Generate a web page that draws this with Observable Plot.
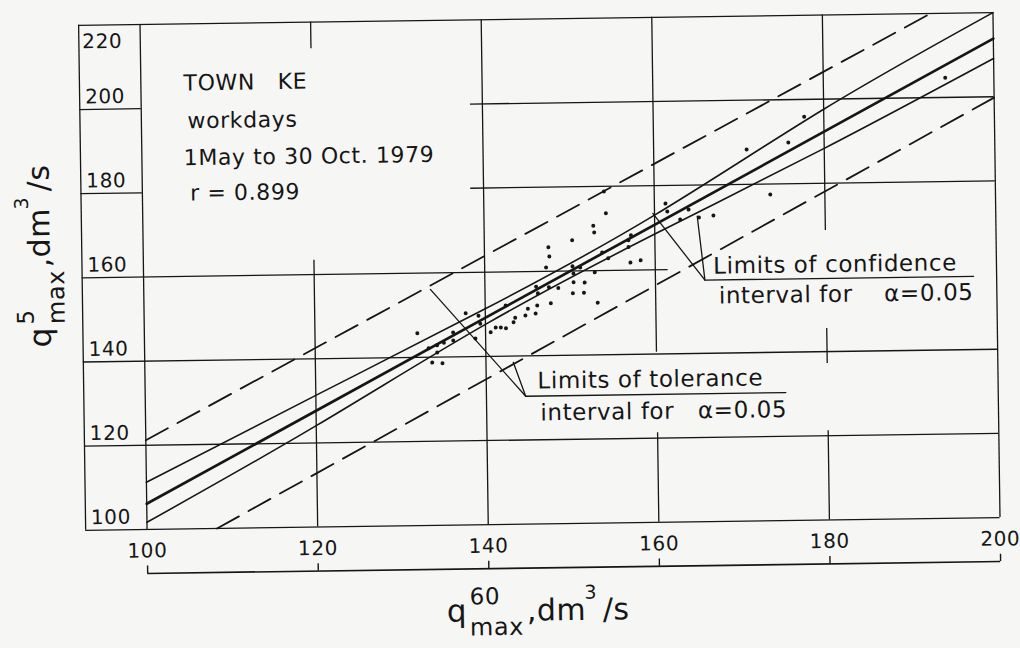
<!DOCTYPE html>
<html>
<head>
<meta charset="utf-8">
<script src="https://cdn.jsdelivr.net/npm/d3@7"></script>
<script src="https://cdn.jsdelivr.net/npm/@observablehq/plot@0.6"></script>
<style>
  html, body { margin: 0; padding: 0; background: #f6f6f5; }
  #chart svg { display: block; }
  #chart svg text { white-space: pre; letter-spacing: 0.6px; }
</style>
</head>
<body>
<div id="chart"></div>
<script>
// ---- data ----
const xTicks = [100, 120, 140, 160, 180, 200];
const yTicks = [100, 120, 140, 160, 180, 200];
const yTopTick = [220];

// observed points (q60max, q5max)
const obsX = [152.8,152.9,150.3,147.5,147.6,147.2,150.3,151.2,150.4,151.7,152.9,146.0,147.5,148.6,146.2,150.4,150.3,151.6,153.2,147.7,146.1,145.0,145.9,144.7,143.5,143.3,142.4,141.8,142.4,141.2,140.6,139.2,139.4,137.7,136.2,136.2,135.1,134.3,133.3,132.0,134.3,133.7,134.9,138.8,154.1,154.3,161.3,161.5,163.0,164.0,165.2,166.9,157.2,156.9,156.9,153.8,154.5,157.1,158.3,194.3,177.7,175.8,170.9,173.6];
const obsY = [170.7,169.1,167.3,165.7,163.5,160.9,161.1,160.8,159.4,157.2,159.6,156.4,156.2,156.0,154.8,157.3,154.7,154.8,152.4,152.4,151.9,151.2,150.0,149.6,149.1,148.0,152.0,146.8,146.6,146.8,145.7,149.7,147.8,150.3,145.8,143.9,143.4,142.8,142.1,145.7,141.1,138.7,138.5,144.3,178.8,173.6,175.7,173.8,171.9,174.2,172.3,172.7,168.3,167.1,165.5,164.3,162.9,161.8,162.3,204.7,195.9,189.8,188.3,177.5];

// regression line
const fitX = [100, 200];
const fitY = [106.1, 213.8];

// confidence limits (read at grid verticals)
const confX = [100, 120, 140, 160, 180, 200];
const confUpper = [111.2, 131.3, 151.3, 173.0, 197.6, 220.0];
const confLower = [101.7, 124.1, 147.6, 168.5, 188.3, 209.1];

// tolerance limits
const tolUpperX = [100, 192.7];
const tolUpperY = [121.2, 220.0];
const tolLowerX = [108.2, 200];
const tolLowerY = [100.0, 199.8];

// texts
const infoLines = ["TOWN   KE", "workdays", "1May to 30 Oct. 1979", "r = 0.899"];
const tolLabel = ["Limits of tolerance", "interval for   α=0.05"];
const confLabel = ["Limits of confidence", "interval for    α=0.05"];

// grid segments of the drafted sheet (broken around the labels)
const hGrid = [
  {y: 220, x1: 92.8, x2: 200}, {y: 200, x1: 92.8, x2: 100}, {y: 200, x1: 138.6, x2: 200},
  {y: 180, x1: 92.8, x2: 100}, {y: 180, x1: 138.5, x2: 200}, {y: 160, x1: 92.8, x2: 161.5},
  {y: 140, x1: 92.8, x2: 200}, {y: 120, x1: 92.8, x2: 200}, {y: 100, x1: 92.8, x2: 200}
];
const vGrid = [
  {x: 92.8, y1: 100, y2: 220}, {x: 100, y1: 100, y2: 220},
  {x: 120, y1: 213.7, y2: 220}, {x: 120, y1: 100, y2: 163.4},
  {x: 140, y1: 100, y2: 220},
  {x: 160, y1: 140.4, y2: 220}, {x: 160, y1: 100, y2: 121.3},
  {x: 180, y1: 168.8, y2: 220}, {x: 180, y1: 137.2, y2: 145.5}, {x: 180, y1: 100, y2: 121.2},
  {x: 200, y1: 100, y2: 220}
];

const ink = "#161616";
const pts = obsX.map((x, i) => ({x, y: obsY[i]}));
const xy = (X, Y) => X.map((x, i) => ({x, y: Y[i]}));

const svg = Plot.plot({
  width: 1020, height: 648,
  marginLeft: 143, marginRight: 24, marginTop: 18, marginBottom: 125,
  x: {domain: [100, 200]},
  y: {domain: [100, 220]},
  style: {background: "transparent", fontFamily: "DejaVu Sans", color: ink, overflow: "visible"},
  marks: [
    Plot.ruleY(hGrid, {y: "y", x1: "x1", x2: "x2", stroke: ink, strokeWidth: 1.3}),
    Plot.ruleX(vGrid, {x: "x", y1: "y1", y2: "y2", stroke: ink, strokeWidth: 1.3}),
    // secondary scale bar under the x labels
    Plot.ruleY([89.55], {x1: 100, x2: 200, stroke: ink, strokeWidth: 1.6}),
    Plot.ruleX(xTicks, {x: d => d, y1: 89.55, y2: 91.3, stroke: ink, strokeWidth: 1.4}),
    // tolerance limits
    Plot.line(xy(tolUpperX, tolUpperY), {x: "x", y: "y", stroke: ink, strokeWidth: 1.8, strokeDasharray: "25,11"}),
    Plot.line(xy(tolLowerX, tolLowerY), {x: "x", y: "y", stroke: ink, strokeWidth: 1.8, strokeDasharray: "25,11"}),
    // confidence limits
    Plot.line(xy(confX, confUpper), {x: "x", y: "y", curve: "natural", stroke: ink, strokeWidth: 1.6}),
    Plot.line(xy(confX, confLower), {x: "x", y: "y", curve: "natural", stroke: ink, strokeWidth: 1.6}),
    // regression
    Plot.line(xy(fitX, fitY), {x: "x", y: "y", stroke: ink, strokeWidth: 2.7}),
    // observations
    Plot.dot(pts, {x: "x", y: "y", r: 2, fill: ink, stroke: null}),
    // leader lines
    Plot.line([{x: 133.6, y: 156.1}, {x: 144.6, y: 130.4}, {x: 175.1, y: 130.4}], {x: "x", y: "y", stroke: ink, strokeWidth: 1.3}),
    Plot.line([{x: 143.2, y: 138.5}, {x: 144.6, y: 130.4}], {x: "x", y: "y", stroke: ink, strokeWidth: 1.3}),
    Plot.line([{x: 159.8, y: 173.4}, {x: 165.8, y: 157.4}, {x: 197.3, y: 157.4}], {x: "x", y: "y", stroke: ink, strokeWidth: 1.3}),
    Plot.line([{x: 165.0, y: 172.6}, {x: 165.8, y: 157.4}], {x: "x", y: "y", stroke: ink, strokeWidth: 1.3}),
    // info block
    Plot.text(infoLines, {x: (d, i) => [105.0, 105.4, 104.9, 105.6][i], y: (d, i) => [204.2, 195.2, 186.4, 178.0][i],
      text: d => d, textAnchor: "start", lineAnchor: "bottom", fontSize: 22, fill: ink}),
    // labels
    Plot.text(tolLabel, {x: (d, i) => [146.0, 146.3][i], y: (d, i) => [132.2, 124.6][i],
      text: d => d, textAnchor: "start", lineAnchor: "bottom", fontSize: 23, fill: ink}),
    Plot.text(confLabel, {x: (d, i) => [166.8, 167.4][i], y: (d, i) => [158.9, 151.8][i],
      text: d => d, textAnchor: "start", lineAnchor: "bottom", fontSize: 23, fill: ink}),
    // axes
    Plot.axisY(yTicks, {anchor: "left", tickSize: 0, tickPadding: 0, textAnchor: "start", lineAnchor: "bottom",
      dx: -56, dy: -6, fontSize: 20, label: null, fill: ink}),
    Plot.axisY(yTopTick, {anchor: "left", tickSize: 0, tickPadding: 0, textAnchor: "start", lineAnchor: "bottom",
      dx: -58, dy: 23, fontSize: 20, label: null, fill: ink}),
    Plot.axisX(xTicks, {anchor: "bottom", tickSize: 0, tickPadding: 0, lineAnchor: "bottom",
      dy: 28, fontSize: 20, label: null, fill: ink})
  ]
});

document.getElementById("chart").appendChild(svg);

// axis titles with stacked super/subscripts
function axisTitle(x, y, rot, sup) {
  const g = d3.select(svg).append("g")
    .attr("transform", `translate(${x},${y}) rotate(${rot})`)
    .attr("font-family", "DejaVu Sans").attr("fill", ink)
    .attr("text-anchor", "start");
  const pieces = [
    ["q", 0, 0, 31], [sup, 23, -17, 23], ["max", 23, 14, 24],
    [",", 80, 0, 30], ["dm", 90, 0, 30], ["3", 138, -21, 19], ["/s", 156, 0, 30]
  ];
  for (const [t, dx, dy, fs] of pieces) {
    g.append("text").attr("x", dx).attr("y", dy).attr("font-size", fs)
      .attr("text-anchor", "start").text(t);
  }
}
axisTitle(442, 620, 0, "60");
axisTitle(50, 340, -90, "5");

// the scanned sheet is slightly turned
svg.style.transformOrigin = "572px 270px";
svg.style.transform = "rotate(-0.8deg)";
</script>
</body>
</html>
